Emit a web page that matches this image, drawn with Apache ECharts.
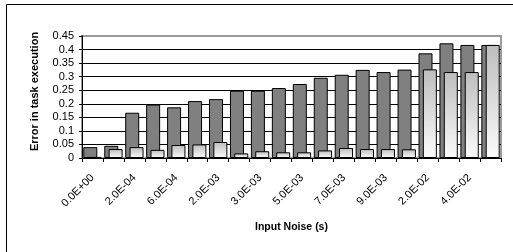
<!DOCTYPE html>
<html><head><meta charset="utf-8">
<script src="https://cdn.jsdelivr.net/npm/echarts@6/dist/echarts.min.js"></script>
<style>html,body{margin:0;padding:0;background:#fff}#c{width:513px;height:252px}</style>
</head><body><div id="c"></div>
<script>
const categories = ["0.0E+00","1.0E-04","2.0E-04","4.0E-04","6.0E-04","8.0E-04","2.0E-03","2.5E-03","3.0E-03","4.0E-03","5.0E-03","6.0E-03","7.0E-03","8.0E-03","9.0E-03","1.0E-02","2.0E-02","3.0E-02","4.0E-02","5.0E-02"];
const darkValues = [0.04,0.045,0.167,0.197,0.187,0.21,0.217,0.248,0.248,0.258,0.273,0.296,0.307,0.325,0.317,0.326,0.386,0.423,0.417,0.417];
const lightValues = [0.004,0.033,0.04,0.03,0.048,0.05,0.059,0.017,0.025,0.021,0.021,0.028,0.037,0.033,0.033,0.032,0.327,0.317,0.317,0.417];
const yTicks = {min:0, max:0.45, interval:0.05};

const chart = echarts.init(document.getElementById('c'), null, {renderer:'canvas'});
const font = '"Liberation Sans", Arial, sans-serif';
chart.setOption({
  animation:false,
  graphic:[{type:'polyline', shape:{points:[[6.5,252],[6.5,4.5],[513,4.5]]}, style:{stroke:'#000', lineWidth:1, fill:null}}],
  grid:{left:82, right:12, top:36, bottom:94, show:true, borderColor:'#9a9a9a', borderWidth:2, backgroundColor:'transparent'},
  xAxis:{type:'category', data:categories,
    axisLine:{lineStyle:{color:'#000', width:1}},
    axisTick:{show:true, interval:0, length:4, lineStyle:{color:'#000'}},
    axisLabel:{interval:1, rotate:45, fontFamily:font, fontSize:11, color:'#000', margin:18},
    name:'Input Noise (s)', nameLocation:'middle', nameGap:64,
    nameTextStyle:{fontFamily:font, fontSize:10.5, fontWeight:'bold', color:'#000'}
  },
  yAxis:{type:'value', min:yTicks.min, max:yTicks.max, interval:yTicks.interval,
    axisLine:{show:true, lineStyle:{color:'#000'}},
    axisTick:{show:true, length:3, lineStyle:{color:'#000'}},
    axisLabel:{fontFamily:font, fontSize:11, color:'#000', margin:8},
    splitLine:{show:true, lineStyle:{color:['#000','#000','#000','#000','#000','#000','#000','#000','#000','#9a9a9a'], width:1}},
    name:'Error in task execution', nameLocation:'middle', nameGap:42,
    nameTextStyle:{fontFamily:font, fontSize:11, fontWeight:'bold', color:'#000', padding:[0,0,0,11]}
  },
  series:[
    {type:'bar', data:darkValues, barWidth:14, barGap:'-69%',
      itemStyle:{color:'#808080', borderColor:'#000', borderWidth:1}},
    {type:'bar', data:lightValues, barWidth:14,
      itemStyle:{color:new echarts.graphic.LinearGradient(0,0,0,1,[{offset:0,color:'#bdbdbd'},{offset:1,color:'#fbfbfb'}]), borderColor:'#000', borderWidth:1}}
  ]
});
</script></body></html>
